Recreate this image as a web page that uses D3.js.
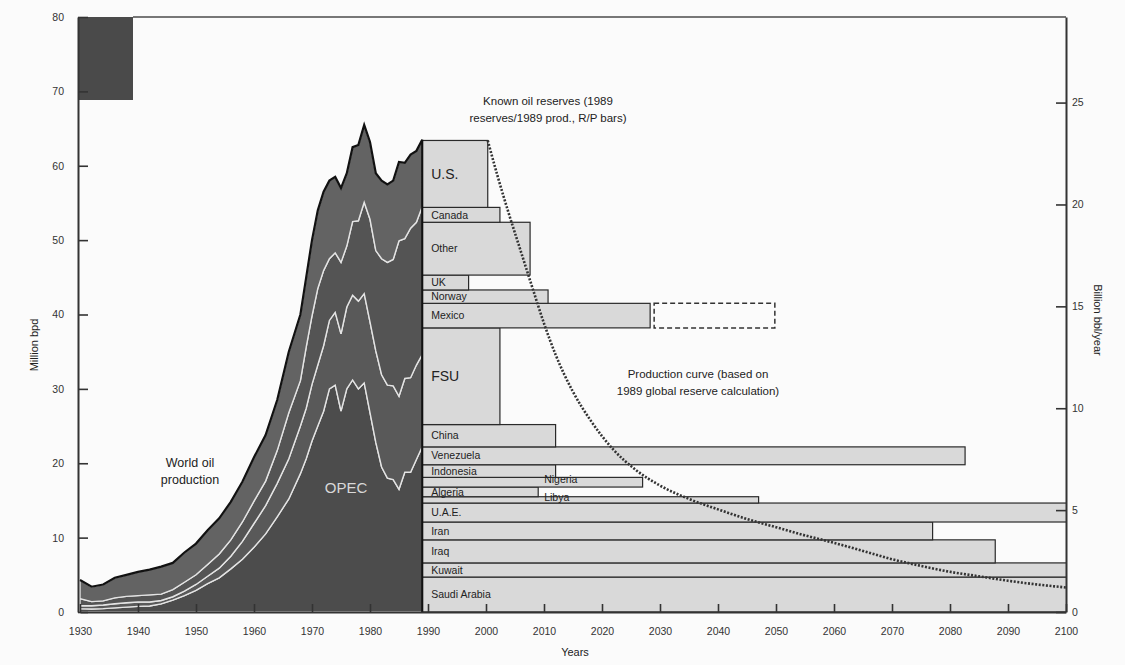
<!DOCTYPE html>
<html>
<head>
<meta charset="utf-8">
<script src="https://cdn.jsdelivr.net/npm/d3@7"></script>
<style>
  body { margin: 0; background: #fbfbfb; }
  svg text { font-family: "Liberation Sans", Arial, sans-serif; fill: #222; }
</style>
</head>
<body>
<svg id="chart" width="1125" height="665"></svg>
<script>
// world oil production, million bpd, layers from bottom to top
const years = [1930,1932,1934,1936,1938,1940,1942,1944,1946,1948,1950,1952,1954,1956,1958,1960,1962,1964,1966,1968,1969,1970,1971,1972,1973,1974,1975,1976,1977,1978,1979,1980,1981,1982,1983,1984,1985,1986,1987,1988,1989];
const opec  = [0.45,0.4,0.45,0.55,0.65,0.75,0.8,1.1,1.6,2.2,2.9,3.8,4.6,5.8,7.1,8.7,10.5,12.8,15.2,18.6,20.6,23.0,25.0,27.0,30.0,30.5,27.0,30.0,31.2,30.0,30.8,26.8,22.8,19.5,18.0,17.8,16.5,18.8,18.8,20.5,22.2];
const fsu   = [0.4,0.45,0.5,0.55,0.6,0.6,0.55,0.45,0.45,0.6,0.8,1.0,1.3,1.7,2.4,3.2,3.8,4.5,5.4,6.4,6.8,7.6,8.2,8.8,9.2,9.8,10.4,11.0,11.4,11.8,12.0,12.2,12.3,12.4,12.5,12.6,12.5,12.6,12.7,12.7,12.4];
const other = [0.95,0.55,0.55,0.8,0.85,0.85,0.95,0.85,0.95,1.2,1.3,1.6,1.9,2.2,2.6,3.0,3.3,4.4,6.2,6.1,8.2,9.2,10.3,10.1,8.3,8.0,9.6,8.2,9.9,10.8,12.3,13.8,13.5,15.6,16.5,17.0,20.9,18.8,20.1,19.2,19.9];
const us    = [2.5,2.0,2.2,2.7,2.9,3.2,3.4,3.7,3.6,4.0,4.2,4.6,4.8,5.1,5.4,5.9,6.2,6.8,8.2,8.9,9.4,10.2,10.5,10.6,10.5,10.2,10.0,9.8,10.0,10.2,10.4,10.4,10.4,10.5,10.5,10.6,10.6,10.2,9.9,9.6,9.0];

// R/P bars: 1989 production (million bpd) and reserves/production in years, stacked bottom to top
const countries = ['Saudi Arabia','Kuwait','Iraq','Iran','U.A.E.','Libya','Algeria','Nigeria','Indonesia','Venezuela','China','FSU','Mexico','Norway','UK','Other','Canada','U.S.'];
const prod89   = [4.7,1.9,3.1,2.4,2.55,0.85,1.3,1.3,1.7,2.4,3.0,13.0,3.3,1.8,2.0,7.1,2.0,9.0];
const rpYears  = [130,130,98.8,88,130,58,20,38,23,93.6,23,13.4,39.3,21.7,8,18.6,13.4,11.3];
const mexicoAltRP = 60.8;

// production curve from 1989 global reserves
const curveYears  = [2000.3,2002,2004,2006,2008,2010,2012,2015,2018,2022,2026,2030,2035,2040,2045,2050,2055,2060,2065,2070,2075,2080,2085,2090,2095,2100];
const curveValues = [63.4,58.6,53.4,48.5,43.6,38.8,34.6,29.6,25.8,21.8,19.0,17.0,15.2,13.8,12.5,11.4,10.3,9.3,8.2,7.1,6.2,5.4,4.8,4.2,3.7,3.3];

const xTicks = d3.range(1930, 2101, 10);
const leftTicks = d3.range(0, 81, 10);
const rightTicks = [0, 5, 10, 15, 20, 25];

const svg = d3.select('#chart');
const width = 1125, height = 665;

const x = d3.scaleLinear().domain([1930, 2100]).range([80, 1066]);
const y = d3.scaleLinear().domain([0, 80]).range([612, 17]);
const yRight = d3.scaleLinear().domain([0, 80 * 0.365]).range([612, 17]);

svg.append('rect').attr('width', width).attr('height', height).attr('fill', '#fbfbfb');

svg.append('defs').append('clipPath').attr('id', 'plot')
  .append('rect').attr('x', x(1930)).attr('y', 0).attr('width', x(2100) - x(1930)).attr('height', 615);

// dark block top left
svg.append('rect').attr('x', 78).attr('y', 17).attr('width', 55).attr('height', 83).attr('fill', '#4a4a4a');

// frame top line
svg.append('line').attr('x1', 133).attr('x2', x(2100)).attr('y1', 17).attr('y2', 17)
  .attr('stroke', '#777').attr('stroke-width', 2);

// ---- R/P bars
let cum = 0;
const bars = countries.map((c, i) => {
  const b = { name: c, y0: cum, y1: cum + prod89[i], rp: rpYears[i] };
  cum += prod89[i];
  return b;
});

const barG = svg.append('g').attr('clip-path', 'url(#plot)');
barG.selectAll('rect').data(bars).join('rect')
  .attr('x', x(1989))
  .attr('y', d => y(d.y1))
  .attr('width', d => x(1989 + d.rp) - x(1989))
  .attr('height', d => y(d.y0) - y(d.y1))
  .attr('fill', '#d9d9d9')
  .attr('stroke', '#2a2a2a')
  .attr('stroke-width', 1.2);

const mex = bars.find(b => b.name === 'Mexico');
barG.append('rect')
  .attr('x', x(1989 + mex.rp) + 4)
  .attr('y', y(mex.y1))
  .attr('width', x(1989 + mexicoAltRP) - x(1989 + mex.rp) - 4)
  .attr('height', y(mex.y0) - y(mex.y1))
  .attr('fill', 'none').attr('stroke', '#333').attr('stroke-width', 1.5)
  .attr('stroke-dasharray', '5,3');

// ---- world production stack
const rows = years.map((yr, i) => ({ year: yr, opec: opec[i], fsu: fsu[i], other: other[i], us: us[i] }));
const series = d3.stack().keys(['opec', 'fsu', 'other', 'us'])(rows);
const layerFill = ['#4c4c4c', '#595959', '#545454', '#636363'];

const area = d3.area()
  .x(d => x(d.data.year))
  .y0(d => y(d[0]))
  .y1(d => y(d[1]));

svg.append('g').selectAll('path').data(series).join('path')
  .attr('d', area)
  .attr('fill', (d, i) => layerFill[i])
  .attr('stroke', '#e4e4e4')
  .attr('stroke-width', 1.4);

const topLayer = series[series.length - 1];
const outline = d3.line().x(d => x(d.data.year)).y(d => y(d[1]));
svg.append('path')
  .attr('d', outline(topLayer) + `L${x(1989)},${y(0)}`)
  .attr('fill', 'none').attr('stroke', '#111').attr('stroke-width', 2.2);

svg.append('text').attr('x', 346).attr('y', 493).attr('text-anchor', 'middle')
  .attr('font-size', 15).style('fill', '#d8d8d8').text('OPEC');

// ---- production curve
const curve = d3.line().x(d => x(d[0])).y(d => y(d[1])).curve(d3.curveMonotoneX);
svg.append('path')
  .attr('d', curve(curveYears.map((c, i) => [c, curveValues[i]])))
  .attr('fill', 'none').attr('stroke', '#333').attr('stroke-width', 2.6)
  .attr('stroke-dasharray', '2,1.6');

// ---- bar labels
const big = ['U.S.', 'FSU'];
const offsetLabels = ['Nigeria', 'Libya'];
svg.append('g').selectAll('text')
  .data(bars.filter(b => !offsetLabels.includes(b.name)))
  .join('text')
  .attr('x', x(1989) + 9)
  .attr('y', d => y((d.y0 + d.y1) / 2))
  .attr('dy', '0.35em')
  .attr('font-size', d => big.includes(d.name) ? 14 : 10.5)
  .text(d => d.name);

svg.append('g').selectAll('text')
  .data(bars.filter(b => offsetLabels.includes(b.name)))
  .join('text')
  .attr('x', x(2009) + 6)
  .attr('y', d => y((d.y0 + d.y1) / 2))
  .attr('dy', '0.1em')
  .attr('font-size', 10.5)
  .text(d => d.name);

// ---- axes
const leftAxis = d3.axisLeft(y).tickValues(leftTicks).tickSize(-10).tickSizeOuter(0).tickPadding(14);
const gl = svg.append('g').attr('transform', `translate(${x(1930) - 2},0)`).call(leftAxis);
gl.select('.domain').attr('stroke', '#333').attr('stroke-width', 2);

const rightAxis = d3.axisRight(yRight).tickValues(rightTicks).tickSize(-10).tickSizeOuter(0).tickPadding(6);
const gr = svg.append('g').attr('transform', `translate(${x(2100)},0)`).call(rightAxis);
gr.select('.domain').attr('stroke', '#333').attr('stroke-width', 2);

const bottomAxis = d3.axisBottom(x).tickValues(xTicks).tickFormat(d3.format('d')).tickSize(-8).tickSizeOuter(0).tickPadding(16);
const gb = svg.append('g').attr('transform', `translate(0,${y(0)})`).call(bottomAxis);
gb.select('.domain').attr('stroke', '#333').attr('stroke-width', 2);

[gl, gr, gb].forEach(g => {
  g.selectAll('text').attr('font-size', 10.5).style('fill', '#333');
  g.selectAll('.tick line').attr('stroke', '#333').attr('stroke-width', 1.6);
});

svg.append('text').attr('transform', 'translate(38,345) rotate(-90)')
  .attr('text-anchor', 'middle').attr('font-size', 11).text('Million bpd');
svg.append('text').attr('transform', 'translate(1094,320) rotate(90)')
  .attr('text-anchor', 'middle').attr('font-size', 11).text('Billion bbl/year');
svg.append('text').attr('x', 575).attr('y', 656).attr('text-anchor', 'middle')
  .attr('font-size', 11).text('Years');

// ---- annotations
const notes = [
  { lines: ['Known oil reserves (1989', 'reserves/1989 prod., R/P bars)'], cx: 548, y: 105 },
  { lines: ['Production curve (based on', '1989 global reserve calculation)'], cx: 698, y: 378 },
  { lines: ['World oil', 'production'], cx: 190, y: 467 }
];
notes.forEach(n => {
  const t = svg.append('text').attr('text-anchor', 'middle').attr('font-size', n.cx === 190 ? 12.5 : 11.5);
  n.lines.forEach((l, i) => t.append('tspan').attr('x', n.cx).attr('y', n.y + i * 17).text(l));
});
</script>
</body>
</html>
